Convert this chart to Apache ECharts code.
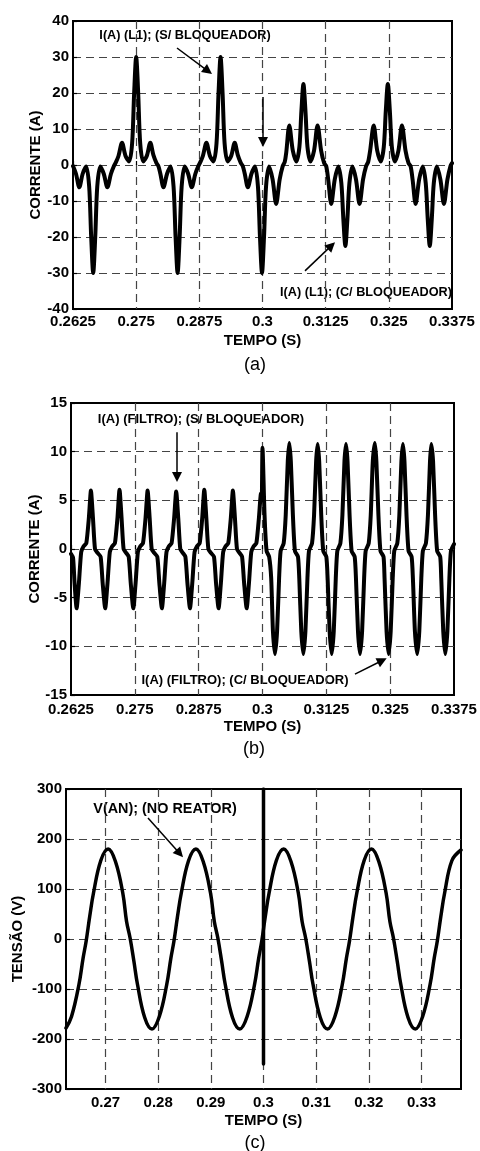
<!DOCTYPE html>
<html>
<head>
<meta charset="utf-8">
<script src="https://cdn.jsdelivr.net/npm/echarts@6/dist/echarts.min.js"></script>
<style>
  html, body { margin: 0; padding: 0; background: #fff; }
  #chart { width: 480px; height: 1151px; }
</style>
</head>
<body>
<div id="chart"></div>
<script>
// marcas do eixo de tempo (s)
const temposAB = [0.2625, 0.275, 0.2875, 0.3, 0.3125, 0.325, 0.3375];
const temposC = [0.27, 0.28, 0.29, 0.3, 0.31, 0.32, 0.33];

// (a) I(A) (L1) - sem bloqueador ate 0.3 s, com bloqueador depois
const correnteL1 = [
  [0.2625,-0.3],[0.2631,-2.5],[0.26375,-6.2],[0.2644,-2.5],[0.2651,-0.4],[0.2657,-6],[0.2661,-20],[0.2665,-30],[0.2669,-20],[0.2673,-6],[0.2679,-0.4],[0.2686,-2.5],[0.2693,-6.2],[0.2700,-2.5],[0.2706,-0.3],
  [0.2710,0.8],[0.2715,2.5],[0.2722,6.2],[0.2729,2.5],[0.2736,1],[0.2742,6],[0.2746,20],[0.2750,30],[0.2754,20],[0.2758,6],[0.2764,1],[0.2771,2.5],[0.2778,6.2],[0.2784,2.8],[0.2790,0.6],
  [0.2794,-0.3],[0.2798,-2.5],[0.2804,-6.2],[0.2811,-2.5],[0.2818,-0.4],[0.2824,-6],[0.2828,-20],[0.2832,-30],[0.2836,-20],[0.2840,-6],[0.2846,-0.4],[0.2853,-2.5],[0.2860,-6.2],[0.2867,-2.5],[0.2873,-0.3],
  [0.2877,0.8],[0.2882,2.5],[0.2889,6.2],[0.2896,2.5],[0.2903,1],[0.2909,6],[0.2913,20],[0.2917,30],[0.2921,20],[0.2925,6],[0.2931,1],[0.2938,2.5],[0.2945,6.2],[0.2951,2.8],[0.2957,0.6],
  [0.2961,-0.3],[0.2965,-2.5],[0.2971,-6.2],[0.2978,-2.5],[0.2985,-0.4],[0.2991,-6],[0.2995,-20],[0.2999,-30],[0.3003,-20],[0.3007,-6],[0.3013,-0.4],[0.3020,-4],[0.3027,-10.8],[0.3034,-4],[0.3040,-0.3],
  [0.3044,0.8],[0.3047,3.5],[0.3053,11],[0.3060,4],[0.3067,1],[0.3073,5],[0.3077,15],[0.3081,22.5],[0.3085,15],[0.3089,5],[0.3095,1],[0.3102,4],[0.3109,11],[0.3116,4],[0.3122,0.5],
  [0.3126,-0.3],[0.3130,-4],[0.3136,-10.8],[0.3143,-4],[0.3150,-0.4],[0.3156,-5],[0.3160,-15],[0.3164,-22.5],[0.3168,-15],[0.3172,-5],[0.3178,-0.4],[0.3185,-4],[0.3192,-10.8],[0.3199,-4],[0.3205,-0.3],
  [0.3209,0.8],[0.3213,4],[0.3220,11],[0.3227,4],[0.3234,1],[0.3240,5],[0.3244,15],[0.3248,22.5],[0.3252,15],[0.3256,5],[0.3262,1],[0.3269,4],[0.3276,11],[0.3283,4],[0.3289,0.5],
  [0.3293,-0.3],[0.3297,-4],[0.3303,-10.8],[0.3310,-4],[0.3317,-0.4],[0.3323,-5],[0.3327,-15],[0.3331,-22.5],[0.3335,-15],[0.3339,-5],[0.3345,-0.4],[0.3352,-4],[0.3359,-10.8],[0.3366,-4],[0.3372,-0.3],[0.3375,0.5]
];

// (b) I(A) (FILTRO)
const correnteFiltro = [
  [0.2625,-0.5],[0.2629,-0.9],[0.2632,-3.5],[0.2636,-6.1],[0.26405,-3.5],[0.2645,-0.3],[0.2650,0.3],[0.2655,0.6],[0.2660,3.2],[0.2664,6],[0.2668,3.2],[0.2672,0],[0.2677,-0.4],[0.2683,-0.8],[0.2687,-3.5],[0.2692,-6.1],
  [0.26965,-3.5],[0.2701,-0.3],[0.2706,0.3],[0.2711,0.6],[0.2716,3.2],[0.2720,6.1],[0.2724,3.2],[0.2728,0],[0.2733,-0.4],[0.2738,-0.8],[0.2742,-3.5],[0.2747,-6.1],
  [0.27515,-3.5],[0.2756,-0.3],[0.2761,0.3],[0.2766,0.6],[0.2771,3.2],[0.2775,6],[0.2779,3.2],[0.2783,0],[0.2788,-0.4],[0.2794,-0.8],[0.2798,-3.5],[0.2803,-6.1],
  [0.28075,-3.5],[0.2812,-0.3],[0.2817,0.3],[0.2822,0.6],[0.2827,3.2],[0.2831,5.9],[0.2835,3.2],[0.2839,0],[0.2844,-0.4],[0.2849,-0.8],[0.2853,-3.5],[0.2858,-6.1],
  [0.28625,-3.5],[0.2867,-0.3],[0.2872,0.3],[0.2877,0.6],[0.2882,3.2],[0.2886,6.1],[0.2890,3.2],[0.2894,0],[0.2899,-0.4],[0.2905,-0.8],[0.2909,-3.5],[0.2914,-6.1],
  [0.29185,-3.5],[0.2923,-0.3],[0.2928,0.3],[0.2933,0.6],[0.2938,3.2],[0.2942,6],[0.2946,3.2],[0.2950,0],[0.2955,-0.4],[0.2960,-0.8],[0.2964,-3.5],[0.2969,-6.1],
  [0.29735,-3.5],[0.2978,-0.3],[0.2983,0.3],[0.2988,0.6],[0.2993,3.2],[0.2997,5.7],[0.29985,5],[0.3000,10.4],[0.3004,3.5],[0.3008,-0.2],[0.3013,-0.8],
  [0.3017,-3],[0.30205,-8.5],[0.30245,-10.8],[0.30285,-8.5],[0.30325,-3],[0.30355,-0.2],[0.30415,0.6],[0.30455,3.5],[0.30495,9],[0.30525,10.9],[0.30555,9],[0.30595,3.5],[0.30635,-0.2],[0.30695,-0.8],[0.3072,-3],[0.3076,-8.5],[0.3080,-10.8],
  [0.3084,-8.5],[0.3088,-3],[0.3091,-0.2],[0.3097,0.6],[0.3101,3.5],[0.3105,9],[0.3108,10.8],[0.3111,9],[0.3115,3.5],[0.3119,-0.2],[0.3125,-0.8],[0.31275,-3],[0.31315,-8.5],[0.31355,-10.8],
  [0.31395,-8.5],[0.31435,-3],[0.31465,-0.2],[0.31525,0.6],[0.31565,3.5],[0.31605,9],[0.31635,10.8],[0.31665,9],[0.31705,3.5],[0.31745,-0.2],[0.31805,-0.8],[0.3183,-3],[0.3187,-8.5],[0.3191,-10.8],
  [0.3195,-8.5],[0.3199,-3],[0.3202,-0.2],[0.3208,0.6],[0.3212,3.5],[0.3216,9],[0.3220,10.9],[0.3223,9],[0.3227,3.5],[0.3231,-0.2],[0.3237,-0.8],[0.3239,-3],[0.3243,-8.5],[0.3247,-10.8],
  [0.3251,-8.5],[0.3255,-3],[0.3258,-0.2],[0.3264,0.6],[0.3268,3.5],[0.3272,9],[0.3275,10.8],[0.3278,9],[0.3282,3.5],[0.3286,-0.2],[0.3292,-0.8],[0.32945,-3],[0.32985,-8.5],[0.3303,-10.8],
  [0.3307,-8.5],[0.3311,-3],[0.3314,-0.2],[0.3320,0.6],[0.3324,3.5],[0.3328,9],[0.33305,10.8],[0.3334,9],[0.3338,3.5],[0.3342,-0.2],[0.3348,-0.8],[0.3350,-3],[0.3354,-8.5],[0.3358,-10.8],
  [0.3362,-8.5],[0.3366,-3],[0.3369,-0.2],[0.3375,0.5]
];

// (c) V(AN) no reator
const tensaoAN = [
  [0.2625,-178],[0.26355,-155],[0.26494,-92],[0.26575,-38],[0.26633,-4],[0.26700,45],[0.26772,92],[0.26911,157],[0.27050,180],[0.27189,155],[0.27328,92],[0.27400,35],[0.27467,2],[0.27540,-45],[0.27606,-90],[0.27744,-157],
  [0.27883,-180],[0.28022,-155],[0.28161,-92],[0.28242,-38],[0.28300,-4],[0.28367,45],[0.28439,92],[0.28578,157],[0.28717,180],[0.28855,155],[0.28994,92],[0.29066,35],[0.29133,2],[0.29206,-45],[0.29272,-90],[0.29411,-157],
  [0.29550,-180],[0.29689,-155],[0.29828,-92],[0.29909,-38],[0.29967,-4],[0.30034,45],[0.30106,92],[0.30244,157],[0.30383,180],[0.30522,155],[0.30661,92],[0.30733,35],[0.30800,2],[0.30873,-45],[0.30939,-90],[0.31078,-157],
  [0.31217,-180],[0.31356,-155],[0.31494,-92],[0.31575,-38],[0.31633,-4],[0.31700,45],[0.31772,92],[0.31911,157],[0.32050,180],[0.32189,155],[0.32328,92],[0.32400,35],[0.32467,2],[0.32540,-45],[0.32606,-90],[0.32744,-157],
  [0.32883,-180],[0.33022,-155],[0.33161,-92],[0.33242,-38],[0.33300,-4],[0.33367,45],[0.33439,92],[0.33578,157],[0.3375,178]
];
// transitorio de chaveamento em 0.3 s
const tensaoPico = [[0.3, 300], [0.3, -250]];

const FONTE = 'Liberation Sans';
const chart = echarts.init(document.getElementById('chart'));

function eixoX(gi, min, max, ticks, margin, bordas) {
  return {
    type: 'value', gridIndex: gi, min: min, max: max,
    name: 'TEMPO (S)', nameLocation: 'middle', nameGap: 24, nameMoveOverlap: false,
    nameTextStyle: { fontFamily: FONTE, fontWeight: 'bold', fontSize: 15, color: '#000' },
    axisLine: { show: false },
    axisTick: { show: true, inside: true, length: 4, customValues: ticks, lineStyle: { color: '#000', width: 1.2 } },
    axisLabel: {
      customValues: ticks, margin: margin, showMinLabel: true, showMaxLabel: true,
      fontFamily: FONTE, fontWeight: 'bold', fontSize: 15, color: '#000',
      formatter: v => String(+v.toFixed(5))
    },
    splitLine: {
      show: true, showMinLine: bordas, showMaxLine: bordas,
      lineStyle: { color: '#444', width: 1.2, type: [8, 5] }
    }
  };
}

function eixoY(gi, min, max, interval, nome, gap) {
  return {
    type: 'value', gridIndex: gi, min: min, max: max, interval: interval,
    name: nome, nameLocation: 'middle', nameGap: gap, nameMoveOverlap: false,
    nameTextStyle: { fontFamily: FONTE, fontWeight: 'bold', fontSize: 15, color: '#000' },
    axisLine: { show: false },
    axisTick: { show: true, inside: true, length: 4, lineStyle: { color: '#000', width: 1.2 } },
    axisLabel: { margin: 4, showMinLabel: true, showMaxLabel: true, fontFamily: FONTE, fontWeight: 'bold', fontSize: 15, color: '#000' },
    splitLine: {
      show: true, showMinLine: false, showMaxLine: false,
      lineStyle: { color: '#444', width: 1.2, type: [8, 5] }
    }
  };
}

function setas(lista) {
  return {
    silent: true, animation: false,
    symbol: ['none', 'triangle'], symbolSize: 10,
    label: { show: false },
    lineStyle: { color: '#000', width: 1.5, type: 'solid' },
    data: lista.map(s => [{ coord: s[0] }, { coord: s[1] }])
  };
}

function curva(i, dados, suave, largura, marcas) {
  const s = {
    type: 'line', xAxisIndex: i, yAxisIndex: i, data: dados,
    showSymbol: false, symbol: 'none', smooth: suave, silent: true,
    lineStyle: { color: '#000', width: largura, cap: 'round', join: 'round' }
  };
  if (marcas) s.markLine = setas(marcas);
  return s;
}

function texto(x, y, t, fonte) {
  return { type: 'text', x: x, y: y, silent: true,
    style: { text: t, font: fonte, fill: '#000', align: 'center', verticalAlign: 'middle' } };
}

const quadro = { show: true, borderColor: '#000', borderWidth: 2, backgroundColor: 'transparent', outerBoundsMode: 'none' };

chart.setOption({
  animation: false,
  backgroundColor: '#fff',
  grid: [
    Object.assign({ left: 73, top: 21, width: 379, height: 288 }, quadro),
    Object.assign({ left: 71, top: 403, width: 383, height: 292 }, quadro),
    Object.assign({ left: 66, top: 789, width: 395, height: 300 }, quadro)
  ],
  xAxis: [
    eixoX(0, 0.2625, 0.3375, temposAB, 5, false),
    eixoX(1, 0.2625, 0.3375, temposAB, 7, false),
    eixoX(2, 0.2625, 0.3375, temposC, 6, true)
  ],
  yAxis: [
    eixoY(0, -40, 40, 10, 'CORRENTE (A)', 30),
    eixoY(1, -15, 15, 5, 'CORRENTE (A)', 29),
    eixoY(2, -300, 300, 100, 'TENSÃO (V)', 41)
  ],
  series: [
    curva(0, correnteL1, 0.3, 4, [
      [[0.28308, 32.5], [0.28922, 26.1]],
      [[0.3001, 18.9], [0.3001, 6.4]],
      [[0.30841, -29.4], [0.31364, -22.4]]
    ]),
    curva(1, correnteFiltro, 0.2, 4, [
      [[0.28326, 12.0], [0.28326, 7.4]],
      [[0.31811, -12.85], [0.32344, -11.46]]
    ]),
    curva(2, tensaoAN, 0.4, 3.5, [
      [[0.27807, 242], [0.28409, 171]]
    ]),
    curva(2, tensaoPico, false, 3.5)
  ],
  graphic: [
    texto(185, 35, 'I(A) (L1); (S/ BLOQUEADOR)', 'bold 12.7px "Liberation Sans"'),
    texto(366, 292, 'I(A) (L1); (C/ BLOQUEADOR)', 'bold 12.7px "Liberation Sans"'),
    texto(201, 419, 'I(A) (FILTRO); (S/ BLOQUEADOR)', 'bold 13px "Liberation Sans"'),
    texto(245, 680, 'I(A) (FILTRO); (C/ BLOQUEADOR)', 'bold 13px "Liberation Sans"'),
    texto(165, 809, 'V(AN); (NO REATOR)', 'bold 14.4px "Liberation Sans"'),
    texto(255, 365, '(a)', '18px "Liberation Sans"'),
    texto(254, 749, '(b)', '18px "Liberation Sans"'),
    texto(255, 1143, '(c)', '18px "Liberation Sans"')
  ]
});
</script>
</body>
</html>
